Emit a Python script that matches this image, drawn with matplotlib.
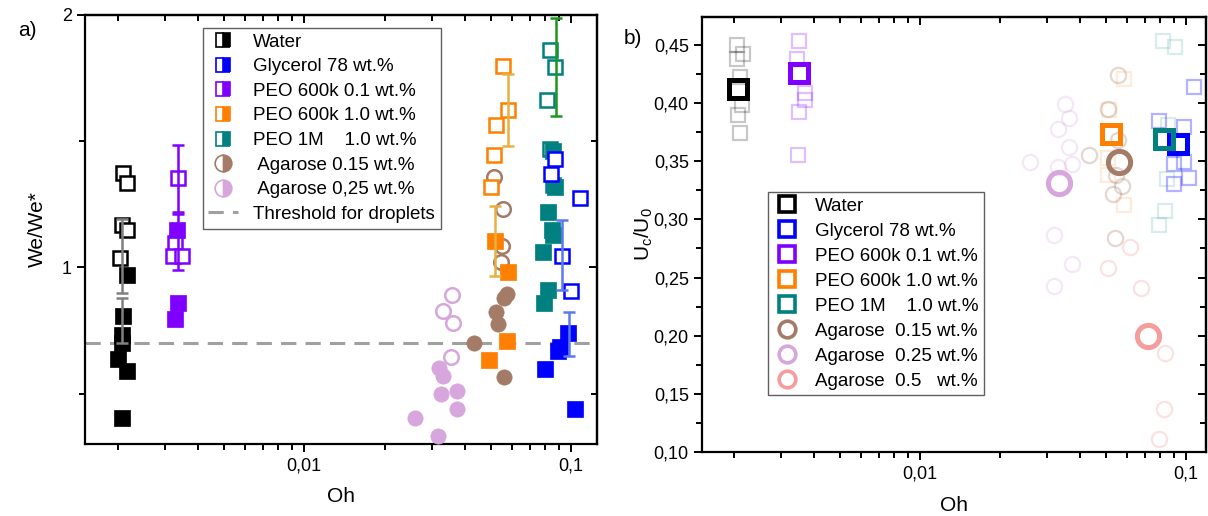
import matplotlib
matplotlib.use('Agg')
import matplotlib.pyplot as plt
from matplotlib.ticker import FixedLocator, FuncFormatter, NullFormatter
from matplotlib.lines import Line2D

plt.rcParams['font.family'] = ['Liberation Sans', 'DejaVu Sans']
plt.rcParams['mathtext.default'] = 'regular'

# colours
c_water = 'black'
c_gly = '#0000FF'
c_peo01 = '#7F00FF'
c_peo10 = '#FF7F00'
c_peo1m = '#008080'
c_ag15 = '#A47B66'
c_ag25 = '#D7A6DC'
c_ag50 = '#F59C9C'

# ---------------- panel a) We/We* vs Oh ----------------
water_oh_open = [0.0021, 0.00217, 0.00208, 0.00217, 0.00204]
water_we_open = [1.373, 1.333, 1.167, 1.147, 1.036]
water_oh_fill = [0.00217, 0.0021, 0.00208, 0.00208, 0.00201, 0.00217, 0.00208]
water_we_fill = [0.968, 0.806, 0.73, 0.70, 0.638, 0.591, 0.405]

peo01_oh_open = [0.00337, 0.00329, 0.00323, 0.00349]
peo01_we_open = [1.353, 1.095, 1.044, 1.044]
peo01_oh_fill = [0.00334, 0.00337, 0.00329]
peo01_we_fill = [1.147, 0.857, 0.794]

ag25_oh_open = [0.0358, 0.0332, 0.0361, 0.0355]
ag25_we_open = [0.889, 0.829, 0.778, 0.643]
ag25_oh_fill = [0.0320, 0.0332, 0.0326, 0.0374, 0.0374, 0.0261, 0.0317]
ag25_we_fill = [0.603, 0.571, 0.50, 0.512, 0.44, 0.405, 0.333]

ag15_oh_open = [0.0515, 0.0556, 0.0551, 0.0547]
ag15_we_open = [1.357, 1.23, 1.083, 1.02]
ag15_oh_fill = [0.0576, 0.0561, 0.0524, 0.0533, 0.0433, 0.0561]
ag15_we_fill = [0.895, 0.88, 0.822, 0.777, 0.702, 0.567]

peo10_oh_open = [0.0556, 0.0580, 0.0524, 0.0515, 0.0502]
peo10_we_open = [1.798, 1.623, 1.563, 1.444, 1.317]
peo10_oh_fill = [0.0519, 0.0580, 0.0576, 0.0493]
peo10_we_fill = [1.103, 0.98, 0.71, 0.631]

peo1m_oh_open = [0.0833, 0.0870, 0.0810, 0.0833, 0.0857]
peo1m_we_open = [1.861, 1.794, 1.663, 1.47, 1.325]
peo1m_oh_fill = [0.0857, 0.0870, 0.0818, 0.085, 0.0857, 0.0785, 0.0818, 0.0792]
peo1m_we_fill = [1.46, 1.32, 1.218, 1.147, 1.127, 1.06, 0.909, 0.857]

gly_oh_open = [0.0870, 0.0842, 0.108, 0.0925, 0.0998]
gly_we_open = [1.429, 1.369, 1.274, 1.044, 0.905]
gly_oh_fill = [0.0975, 0.091, 0.0895, 0.0799, 0.103]
gly_we_fill = [0.738, 0.683, 0.67, 0.599, 0.437]

# error bars (x, mean, half-width)
eb_water = ([0.00208, 0.00208], [1.045, 0.79], [0.145, 0.09])
eb_peo01 = ([0.00337, 0.00337], [1.351, 1.10], [0.133, 0.11])
eb_ag15 = ([0.0519], [1.103], [0.139])
eb_peo10 = ([0.0580], [1.623], [0.143])
eb_peo1m = ([0.0877], [1.795], [0.195])
eb_gly = ([0.0925, 0.0979], [1.048, 0.736], [0.139, 0.089])

threshold = 0.70

# ---------------- panel b) Uc/U0 vs Oh ----------------
mean_oh = [0.00206, 0.0933, 0.00349, 0.0521, 0.0827, 0.0558, 0.0332, 0.0719]
mean_u = [0.412, 0.365, 0.426, 0.373, 0.369, 0.349, 0.331, 0.200]

water_oh_b = [0.00204, 0.00215, 0.00204, 0.00209, 0.00213, 0.00206, 0.00209]
water_u_b = [0.450, 0.442, 0.438, 0.422, 0.398, 0.390, 0.374]
gly_oh_b = [0.107, 0.0793, 0.0982, 0.0899, 0.0982, 0.103, 0.0899]
gly_u_b = [0.414, 0.385, 0.379, 0.348, 0.349, 0.336, 0.330]
peo01_oh_b = [0.00349, 0.00343, 0.00368, 0.00368, 0.00349, 0.00346]
peo01_u_b = [0.453, 0.438, 0.409, 0.403, 0.392, 0.355]
peo10_oh_b = [0.0583, 0.0512, 0.0508, 0.0508, 0.0583]
peo10_u_b = [0.421, 0.394, 0.353, 0.338, 0.312]
peo1m_oh_b = [0.0818, 0.0908, 0.0855, 0.0846, 0.0834, 0.0793]
peo1m_u_b = [0.453, 0.448, 0.381, 0.335, 0.307, 0.295]
ag15_oh_b = [0.0554, 0.0508, 0.0554, 0.0430, 0.0545, 0.0574, 0.0531, 0.0540]
ag15_u_b = [0.424, 0.395, 0.368, 0.355, 0.338, 0.329, 0.322, 0.284]
ag25_oh_b = [0.0352, 0.0362, 0.0329, 0.0362, 0.0372, 0.0329, 0.0258, 0.0318, 0.0372, 0.0318]
ag25_u_b = [0.399, 0.387, 0.378, 0.362, 0.348, 0.345, 0.349, 0.287, 0.262, 0.243]
ag50_oh_b = [0.0615, 0.0508, 0.0676, 0.0834, 0.0826, 0.0793]
ag50_u_b = [0.276, 0.258, 0.241, 0.185, 0.137, 0.111]

labels_a = ['Water', 'Glycerol 78 wt.%', 'PEO 600k 0.1 wt.%', 'PEO 600k 1.0 wt.%',
            'PEO 1M    1.0 wt.%', ' Agarose 0.15 wt.%', ' Agarose 0,25 wt.%']
labels_b = ['Water', 'Glycerol 78 wt.%', 'PEO 600k 0.1 wt.%', 'PEO 600k 1.0 wt.%',
            'PEO 1M    1.0 wt.%', 'Agarose  0.15 wt.%', 'Agarose  0.25 wt.%',
            'Agarose  0.5   wt.%']

fig = plt.figure(figsize=(12.08, 5.16), dpi=100)
ax1 = fig.add_axes([85/1208, 72/516, 512/1208, 429/516])
ax2 = fig.add_axes([702/1208, 64/516, 504/1208, 435/516])

comma = FuncFormatter(lambda v, p: ('%g' % v).replace('.', ','))


def style_axes(ax, xlim, ylim, ymaj, ymin, yfmt):
    ax.set_xscale('log')
    ax.set_xlim(*xlim)
    ax.set_ylim(*ylim)
    xmaj = [0.01, 0.1]
    xmin = [k * 10.0 ** e for e in (-3, -2, -1) for k in range(2, 10)]
    ax.xaxis.set_major_locator(FixedLocator(xmaj))
    ax.xaxis.set_minor_locator(FixedLocator(xmin))
    ax.xaxis.set_major_formatter(comma)
    ax.xaxis.set_minor_formatter(NullFormatter())
    ax.yaxis.set_major_locator(FixedLocator(ymaj))
    ax.yaxis.set_minor_locator(FixedLocator(ymin))
    ax.yaxis.set_major_formatter(yfmt)
    for s in ax.spines.values():
        s.set_linewidth(1.6)
    ax.tick_params(which='both', direction='out', labelsize=13, width=1.4)
    ax.tick_params(which='major', length=6)
    ax.tick_params(which='minor', length=4)
    # inward mirrored ticks on top and right
    top = ax.secondary_xaxis('top')
    top.xaxis.set_major_locator(FixedLocator(xmaj))
    top.xaxis.set_minor_locator(FixedLocator(xmin))
    top.xaxis.set_major_formatter(NullFormatter())
    top.xaxis.set_minor_formatter(NullFormatter())
    top.tick_params(which='both', direction='in', width=1.4)
    top.tick_params(which='major', length=6)
    top.tick_params(which='minor', length=4)
    top.spines['top'].set_linewidth(1.6)
    right = ax.secondary_yaxis('right')
    right.yaxis.set_major_locator(FixedLocator(ymaj))
    right.yaxis.set_minor_locator(FixedLocator(ymin))
    right.yaxis.set_major_formatter(NullFormatter())
    right.tick_params(which='both', direction='in', width=1.4)
    right.tick_params(which='major', length=6)
    right.tick_params(which='minor', length=4)
    right.spines['right'].set_linewidth(1.6)


# ---- panel a
style_axes(ax1, (0.00151, 0.125), (0.30, 2.0), [1, 2], [0.5, 1.5], comma)
ax1.axhline(threshold, color='#A0A0A0', lw=2.2, dashes=(5, 3), zorder=1)

series_a = [
    (water_oh_open, water_we_open, water_oh_fill, water_we_fill, c_water, 's'),
    (peo01_oh_open, peo01_we_open, peo01_oh_fill, peo01_we_fill, c_peo01, 's'),
    (ag25_oh_open, ag25_we_open, ag25_oh_fill, ag25_we_fill, c_ag25, 'o'),
    (ag15_oh_open, ag15_we_open, ag15_oh_fill, ag15_we_fill, c_ag15, 'o'),
    (peo10_oh_open, peo10_we_open, peo10_oh_fill, peo10_we_fill, c_peo10, 's'),
    (peo1m_oh_open, peo1m_we_open, peo1m_oh_fill, peo1m_we_fill, c_peo1m, 's'),
    (gly_oh_open, gly_we_open, gly_oh_fill, gly_we_fill, c_gly, 's'),
]
for xo, yo, xf, yf, c, m in series_a:
    ax1.plot(xo, yo, ls='none', marker=m, ms=10.5, mfc='white', mec=c, mew=1.8, zorder=3)
    ax1.plot(xf, yf, ls='none', marker=m, ms=11, mfc=c, mec=c, mew=0.5, zorder=3)

for (x, y, e), c in [(eb_water, '#808080'), (eb_peo01, '#8000FF'), (eb_ag15, '#E8B040'),
                     (eb_peo10, '#E8B040'), (eb_peo1m, '#1E961E'), (eb_gly, '#5A78F0')]:
    ax1.errorbar(x, y, yerr=e, fmt='none', ecolor=c, elinewidth=1.8, capsize=4,
                 capthick=1.8, zorder=4)

cols_a = [c_water, c_gly, c_peo01, c_peo10, c_peo1m, c_ag15, c_ag25]
marks_a = ['s', 's', 's', 's', 's', 'o', 'o']
handles_a = [Line2D([], [], ls='none', marker=m, ms=10 if m == 's' else 12, mfc=c,
                    mfcalt='white', mec=c, mew=1.2, fillstyle='right')
             for c, m in zip(cols_a, marks_a)]
handles_a.append(Line2D([], [], color='#A0A0A0', lw=2.2, dashes=(5, 3)))
leg = ax1.legend(handles_a, labels_a + ['Threshold for droplets'], loc='upper left',
                 bbox_to_anchor=(0.230, 0.970), borderaxespad=0, fontsize=13.5,
                 fancybox=False, edgecolor='#606060', framealpha=1, labelspacing=0.4,
                 handlelength=1.6, handletextpad=0.8, borderpad=0.3)
leg.get_frame().set_linewidth(1.0)
ax1.set_xlabel('Oh', fontsize=15, labelpad=9)
ax1.set_ylabel('We/We*', fontsize=15)
ax1.yaxis.set_label_coords(-0.074, 0.5)
fig.text(18/1208, 1 - 30/516, 'a)', fontsize=15, va='center', ha='left')

# ---- panel b
fmt2 = FuncFormatter(lambda v, p: ('%.2f' % v).replace('.', ','))
style_axes(ax2, (0.00151, 0.119), (0.10, 0.474),
           [0.10, 0.15, 0.20, 0.25, 0.30, 0.35, 0.40, 0.45],
           [0.125, 0.175, 0.225, 0.275, 0.325, 0.375, 0.425], fmt2)

cols_b = [c_water, c_gly, c_peo01, c_peo10, c_peo1m, c_ag15, c_ag25, c_ag50]
marks_b = ['s', 's', 's', 's', 's', 'o', 'o', 'o']
faint_b = [(water_oh_b, water_u_b, 0.22), (gly_oh_b, gly_u_b, 0.3),
           (peo01_oh_b, peo01_u_b, 0.25), (peo10_oh_b, peo10_u_b, 0.15),
           (peo1m_oh_b, peo1m_u_b, 0.15), (ag15_oh_b, ag15_u_b, 0.3),
           (ag25_oh_b, ag25_u_b, 0.25), (ag50_oh_b, ag50_u_b, 0.3)]
for (x, y, a), c, m in zip(faint_b, cols_b, marks_b):
    ax2.plot(x, y, ls='none', marker=m, ms=10 if m == 's' else 11, mfc='none', mec=c,
             mew=1.6, alpha=a, zorder=2)
for x, y, c, m in zip(mean_oh, mean_u, cols_b, marks_b):
    ax2.plot([x], [y], ls='none', marker=m, ms=13.5 if m == 's' else 16, mfc='none', mec=c,
             mew=3.6, zorder=3)

handles_b = [Line2D([], [], ls='none', marker=m, ms=11 if m == 's' else 12, mfc='none',
                    mec=c, mew=2.6) for c, m in zip(cols_b, marks_b)]
leg2 = ax2.legend(handles_b, labels_b, loc='upper left', bbox_to_anchor=(0.131, 0.598),
                  borderaxespad=0, fontsize=13.5, fancybox=False, edgecolor='#606060',
                  framealpha=1, labelspacing=0.42, handlelength=1.4, handletextpad=0.8,
                  borderpad=0.3)
leg2.get_frame().set_linewidth(1.0)
ax2.set_xlabel('Oh', fontsize=15, labelpad=10)
ax2.set_ylabel('U$_c$/U$_0$', fontsize=15)
ax2.yaxis.set_label_coords(-0.093, 0.5)
fig.text(624/1208, 1 - 38/516, 'b)', fontsize=15, va='center', ha='left')

fig.savefig('out.png', dpi=100)
